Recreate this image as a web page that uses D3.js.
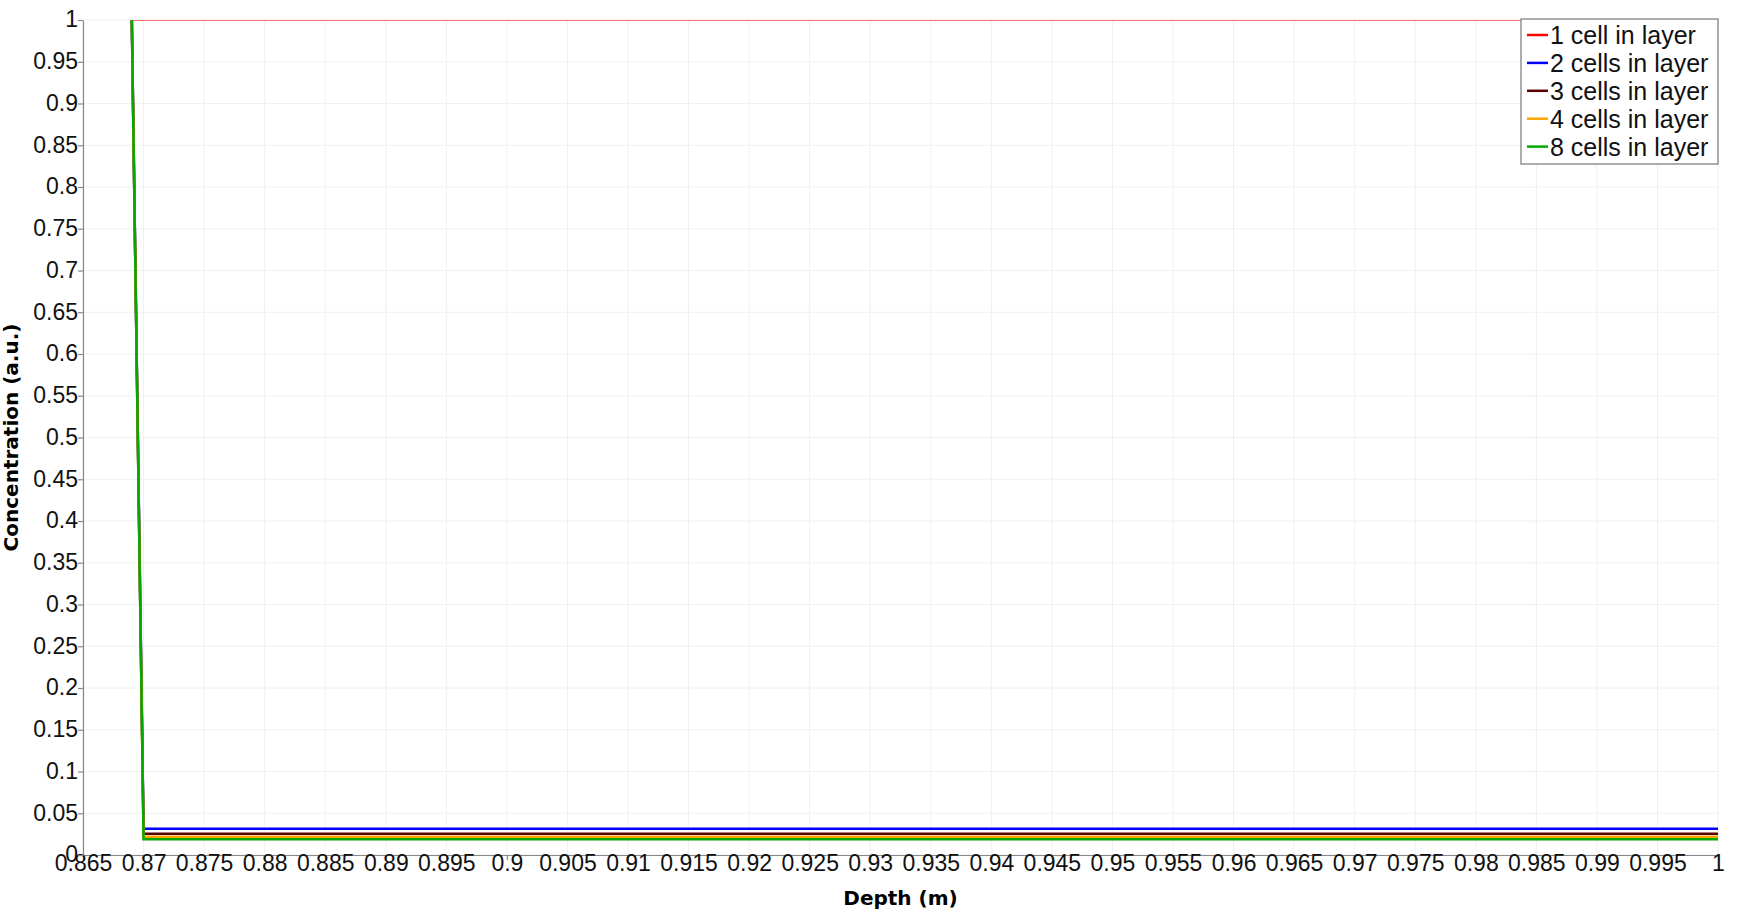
<!DOCTYPE html>
<html>
<head>
<meta charset="utf-8">
<script src="https://cdn.jsdelivr.net/npm/d3@7"></script>
<style>
  html, body { margin: 0; padding: 0; background: #fff; }
  svg { display: block; }
</style>
</head>
<body>
<svg id="chart" width="1738" height="916"></svg>
<script>
// ---- data ----
const seriesNames = ["1 cell in layer", "2 cells in layer", "3 cells in layer", "4 cells in layer", "8 cells in layer"];
const seriesColors = ["#ff0000", "#0000ff", "#5a0000", "#ffa500", "#00aa00"];
const depth = [0.86903, 0.87, 1.0];
const conc1 = [1, 1, 1];
const conc2 = [1, 0.0315, 0.0315];
const conc3 = [1, 0.0255, 0.0255];
const conc4 = [1, 0.0219, 0.0219];
const conc8 = [1, 0.019, 0.019];
const seriesValues = [conc1, conc2, conc3, conc4, conc8];
const xTicks = d3.range(0, 28).map(i => +(0.865 + i * 0.005).toFixed(3));
const yTicks = d3.range(0, 21).map(i => +(i * 0.05).toFixed(2));
const xTitle = "Depth (m)";
const yTitle = "Concentration (a.u.)";

// ---- layout ----
const W = 1738, H = 916;
const margin = { left: 83, right: 20, top: 20, bottom: 61 };
const svg = d3.select("#chart");
const x = d3.scaleLinear().domain([0.865, 1]).range([margin.left, W - margin.right]);
const y = d3.scaleLinear().domain([0, 1]).range([H - margin.bottom, margin.top]);
const fmt = v => String(+v.toFixed(3));

// grid
const grid = svg.append("g");
grid.selectAll(".gx").data(xTicks).join("line")
  .attr("x1", d => x(d)).attr("x2", d => x(d))
  .attr("y1", y(0)).attr("y2", y(1))
  .attr("stroke", "#f0f0f0").attr("stroke-width", 1);
grid.selectAll(".gy").data(yTicks).join("line")
  .attr("x1", x(0.865)).attr("x2", x(1))
  .attr("y1", d => y(d)).attr("y2", d => y(d))
  .attr("stroke", "#f0f0f0").attr("stroke-width", 1);

// axes
const xAxis = svg.append("g").attr("transform", `translate(0,${y(0)})`)
  .call(d3.axisBottom(x).tickValues(xTicks).tickFormat(fmt).tickSize(5).tickPadding(0).tickSizeOuter(0));
const yAxis = svg.append("g").attr("transform", `translate(${x(0.865)},0)`)
  .call(d3.axisLeft(y).tickValues(yTicks).tickFormat(fmt).tickSize(5).tickPadding(0).tickSizeOuter(0));
[xAxis, yAxis].forEach(a => {
  a.select(".domain").attr("stroke", "#888").attr("stroke-width", 1.2);
  a.selectAll(".tick line").attr("stroke", "#888").attr("stroke-width", 1.2);
  a.selectAll(".tick text").attr("fill", "#111")
    .style("font-family", "'Liberation Sans', Arial, sans-serif").style("font-size", "23px");
});
xAxis.selectAll(".tick text").attr("dy", "0.71em").attr("y", 0);
yAxis.selectAll(".tick text").attr("dy", "0.3em");

// clip
svg.append("clipPath").attr("id", "clip").append("rect")
  .attr("x", x(0.865)).attr("y", y(1)).attr("width", x(1) - x(0.865)).attr("height", y(0) - y(1));

// lines
const line = d3.line().x(d => x(d[0])).y(d => y(d[1]));
const plot = svg.append("g").attr("clip-path", "url(#clip)");
seriesValues.forEach((vals, i) => {
  const pts = depth.map((d, j) => [d, vals[j]]);
  plot.append("path").datum(pts)
    .attr("d", line)
    .attr("fill", "none")
    .attr("stroke", i === 0 ? "#ff6e6e" : seriesColors[i])
    .attr("stroke-width", i === 0 ? 2 : 2.5)
    .attr("stroke-linejoin", "miter");
});

// titles
const titleFont = "'DejaVu Sans', sans-serif";
svg.append("text").text(xTitle)
  .attr("x", (x(0.865) + x(1)) / 2).attr("y", 898)
  .attr("text-anchor", "middle").attr("dominant-baseline", "central")
  .style("font-family", titleFont).style("font-weight", "bold").style("font-size", "20px").attr("fill", "#000");
svg.append("text").text(yTitle)
  .attr("transform", `translate(11,${(y(0) + y(1)) / 2}) rotate(-90)`)
  .attr("text-anchor", "middle").attr("dominant-baseline", "central")
  .style("font-family", titleFont).style("font-weight", "bold").style("font-size", "20px").attr("fill", "#000");

// legend
const lg = svg.append("g");
const lx = 1521, ly = 19, lw = 197, lh = 145, rowH = 27.9;
lg.append("rect").attr("x", lx).attr("y", ly).attr("width", lw).attr("height", lh)
  .attr("fill", "#fff").attr("stroke", "#777").attr("stroke-width", 1.2);
seriesNames.forEach((name, i) => {
  const cy = ly + 16 + i * rowH;
  lg.append("line").attr("x1", lx + 6).attr("x2", lx + 27).attr("y1", cy).attr("y2", cy)
    .attr("stroke", seriesColors[i]).attr("stroke-width", 2.5);
  lg.append("text").text(name).attr("x", lx + 29).attr("y", cy)
    .attr("dominant-baseline", "central")
    .style("font-family", "'Liberation Sans', Arial, sans-serif").style("font-size", "25px").attr("fill", "#111");
});
</script>
</body>
</html>
